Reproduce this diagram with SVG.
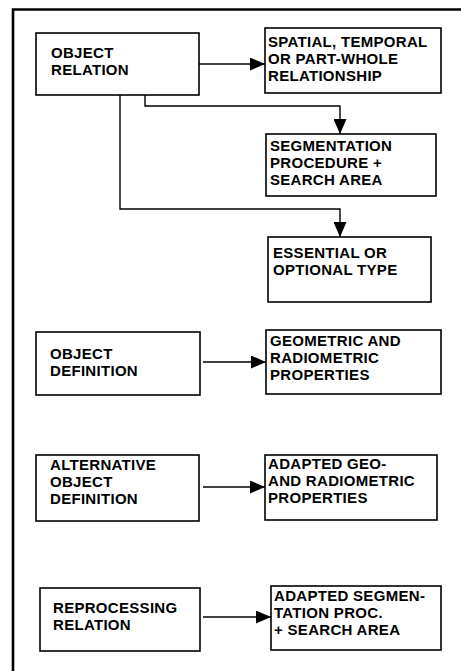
<svg xmlns="http://www.w3.org/2000/svg" width="461" height="671" viewBox="0 0 461 671">
  <style>
    .box { fill: #fff; stroke: #000; stroke-width: 1.6; }
    .lbl { font-family: "Liberation Sans", Arial, sans-serif; font-weight: bold; font-size: 15px; letter-spacing: 0.3px; fill: #000; }
    .wire { fill: none; stroke: #000; stroke-width: 1.4; }
    .frame { fill: none; stroke: #000; stroke-width: 2.6; }
  </style>
  <defs>
    <marker id="arrow" viewBox="0 0 15 13" refX="15" refY="6.5" markerWidth="15" markerHeight="13" markerUnits="userSpaceOnUse" orient="auto">
      <path d="M0,0 L15,6.5 L0,13 Z" fill="#000"/>
    </marker>
  </defs>

  <!-- outer frame (top and left edges) -->
  <path class="frame" d="M13,671 V9.5 H461"/>

  <g id="object-relation">
    <rect class="box" x="36" y="33" width="163" height="62"/>
    <text class="lbl" x="51" y="58">OBJECT</text>
    <text class="lbl" x="51" y="75">RELATION</text>
  </g>
  <g id="relationship">
    <rect class="box" x="265" y="28" width="176" height="65"/>
    <text class="lbl" x="268" y="47.2">SPATIAL, TEMPORAL</text>
    <text class="lbl" x="268" y="64">OR PART-WHOLE</text>
    <text class="lbl" x="268" y="80.8">RELATIONSHIP</text>
  </g>
  <g id="segmentation">
    <rect class="box" x="266" y="134" width="170" height="62"/>
    <text class="lbl" x="270" y="151.2">SEGMENTATION</text>
    <text class="lbl" x="270" y="168">PROCEDURE +</text>
    <text class="lbl" x="270" y="184.8">SEARCH AREA</text>
  </g>
  <g id="type">
    <rect class="box" x="268" y="237" width="163" height="65"/>
    <text class="lbl" x="273" y="258">ESSENTIAL OR</text>
    <text class="lbl" x="273" y="275">OPTIONAL TYPE</text>
  </g>
  <g id="object-definition">
    <rect class="box" x="36" y="332" width="164" height="63"/>
    <text class="lbl" x="50" y="359">OBJECT</text>
    <text class="lbl" x="50" y="376">DEFINITION</text>
  </g>
  <g id="properties">
    <rect class="box" x="266" y="330" width="175" height="64"/>
    <text class="lbl" x="270" y="346.2">GEOMETRIC AND</text>
    <text class="lbl" x="270" y="363">RADIOMETRIC</text>
    <text class="lbl" x="270" y="379.8">PROPERTIES</text>
  </g>
  <g id="alternative-definition">
    <rect class="box" x="36" y="455" width="163" height="66"/>
    <text class="lbl" x="50" y="470.2">ALTERNATIVE</text>
    <text class="lbl" x="50" y="487">OBJECT</text>
    <text class="lbl" x="50" y="503.8">DEFINITION</text>
  </g>
  <g id="adapted-properties">
    <rect class="box" x="265" y="455" width="172" height="65"/>
    <text class="lbl" x="268" y="469.2">ADAPTED GEO-</text>
    <text class="lbl" x="268" y="486">AND RADIOMETRIC</text>
    <text class="lbl" x="268" y="502.8">PROPERTIES</text>
  </g>
  <g id="reprocessing-relation">
    <rect class="box" x="40" y="588" width="160" height="63"/>
    <text class="lbl" x="53" y="613">REPROCESSING</text>
    <text class="lbl" x="53" y="630">RELATION</text>
  </g>
  <g id="adapted-segmentation">
    <rect class="box" x="271" y="586" width="170" height="64"/>
    <text class="lbl" x="274" y="601.2">ADAPTED SEGMEN-</text>
    <text class="lbl" x="274" y="618">TATION PROC.</text>
    <text class="lbl" x="274" y="634.8">+ SEARCH AREA</text>
  </g>

  <g id="connectors">
    <path class="wire" d="M199,64 H265" marker-end="url(#arrow)"/>
    <path class="wire" d="M145,95 V106 H340 V134" marker-end="url(#arrow)"/>
    <path class="wire" d="M120,95 V209 H340 V237" marker-end="url(#arrow)"/>
    <path class="wire" d="M203,362 H266" marker-end="url(#arrow)"/>
    <path class="wire" d="M203,487 H265" marker-end="url(#arrow)"/>
    <path class="wire" d="M203,617 H271" marker-end="url(#arrow)"/>
  </g>
</svg>
